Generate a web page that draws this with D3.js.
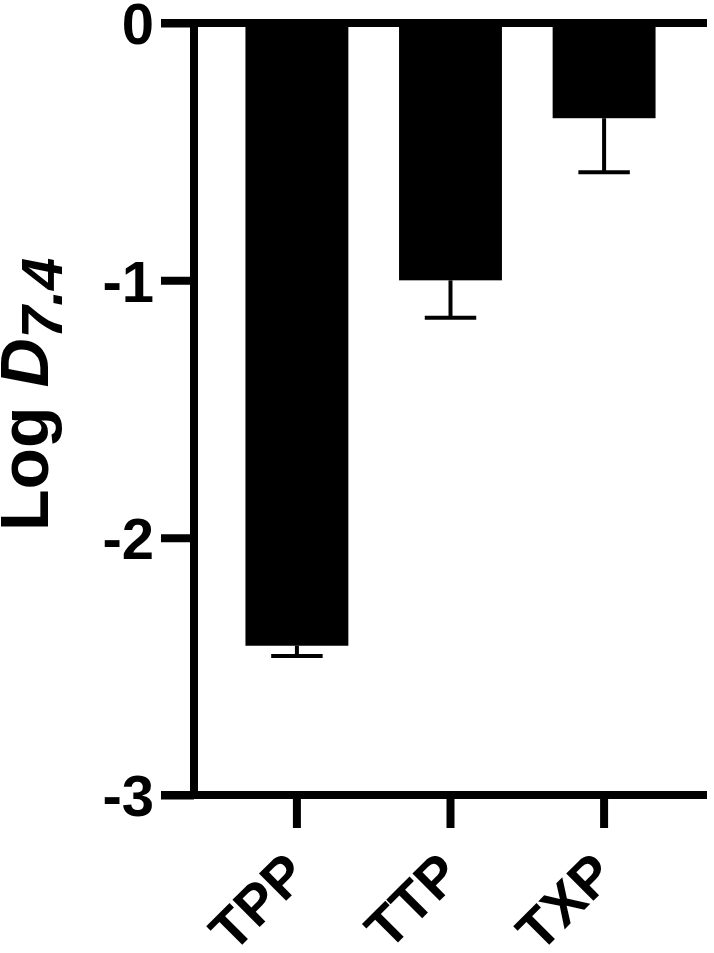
<!DOCTYPE html>
<html>
<head>
<meta charset="utf-8">
<script src="https://cdn.jsdelivr.net/npm/d3@7"></script>
<style>
  html, body { margin: 0; padding: 0; background: #fff; }
  svg { display: block; }
  text { font-family: "Liberation Sans", Arial, Helvetica, sans-serif; font-weight: bold; fill: #000; }
</style>
</head>
<body>
<script>
// ---- data ----
const categories = ["TPP", "TTP", "TXP"];
const values = [-2.42, -1.00, -0.37];
const errors = [0.04, 0.145, 0.21];
const yTickValues = [0, -1, -2, -3];
const yTickLabels = ["0", "-1", "-2", "-3"];

const W = 714, H = 953;
const svg = d3.select("body").append("svg").attr("width", W).attr("height", H);

const y = d3.scaleLinear().domain([0, -3]).range([23, 795]);
const x = d3.scaleBand().domain(categories).range([194, 707])
  .paddingInner(0.33).paddingOuter(0.335);

const lw = 8;

// bars
svg.selectAll("rect.bar").data(categories).enter().append("rect")
  .attr("class", "bar")
  .attr("x", d => x(d))
  .attr("width", x.bandwidth())
  .attr("y", y(0))
  .attr("height", (d, i) => y(values[i]) - y(0))
  .attr("fill", "#000");

// error bars (downward)
const capW = x.bandwidth() * 0.5;
categories.forEach((c, i) => {
  const cx = x(c) + x.bandwidth() / 2;
  const y1 = y(values[i]), y2 = y(values[i] - errors[i]);
  svg.append("line").attr("x1", cx).attr("x2", cx).attr("y1", y1).attr("y2", y2)
    .attr("stroke", "#000").attr("stroke-width", 4);
  svg.append("line").attr("x1", cx - capW / 2).attr("x2", cx + capW / 2).attr("y1", y2).attr("y2", y2)
    .attr("stroke", "#000").attr("stroke-width", 4);
});

// y axis
const yAxis = d3.axisLeft(y).tickValues(yTickValues)
  .tickFormat((d, i) => yTickLabels[i]).tickSize(33).tickSizeOuter(0);
const gy = svg.append("g").attr("transform", "translate(194,0)").call(yAxis);
gy.select(".domain").remove();
gy.selectAll(".tick line").attr("stroke", "#000").attr("stroke-width", lw);
gy.selectAll(".tick text").attr("font-size", 58).attr("font-family", null)
  .attr("x", -40).attr("dy", "0.36em");
svg.append("line").attr("x1", 194).attr("x2", 194).attr("y1", y(0) - lw / 2).attr("y2", y(-3) + lw / 2)
  .attr("stroke", "#000").attr("stroke-width", lw);

// horizontal lines at 0 and -3
[0, -3].forEach(v => {
  svg.append("line").attr("x1", 161).attr("x2", 707).attr("y1", y(v)).attr("y2", y(v))
    .attr("stroke", "#000").attr("stroke-width", lw);
});

// x axis
const xAxis = d3.axisBottom(x).tickSize(33).tickSizeOuter(0);
const gx = svg.append("g").attr("transform", `translate(0,${y(-3)})`).call(xAxis);
gx.select(".domain").remove();
gx.selectAll(".tick line").attr("stroke", "#000").attr("stroke-width", lw);
gx.selectAll(".tick text").attr("font-size", 56).attr("font-family", null)
  .attr("x", 0).attr("y", 0).attr("dy", 0)
  .attr("text-anchor", "end")
  .attr("transform", "translate(13,82) rotate(-45)");

// y axis title
const title = svg.append("text")
  .attr("transform", "translate(48,531) rotate(-90)")
  .attr("text-anchor", "start")
  .attr("font-size", 68);
title.append("tspan").text("Log ");
title.append("tspan").attr("font-style", "italic").text("D");
title.append("tspan").attr("font-style", "italic").attr("font-size", 58).attr("dy", 14).text("7.4");
</script>
</body>
</html>
